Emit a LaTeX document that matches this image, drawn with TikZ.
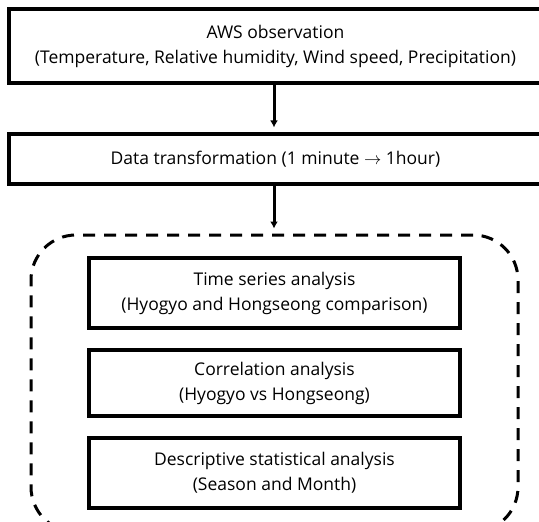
\documentclass[tikz,border=0pt]{standalone}
\usepackage{fontspec}
\setmainfont{Open Sans}
\usetikzlibrary{arrows.meta}

\begin{document}
\begin{tikzpicture}[x=1pt,y=1pt,
  stepbox/.style={draw=black,line width=3.2pt,align=center,inner sep=0pt,font=\fontsize{17.5}{25}\selectfont},
  flow/.style={line width=3pt,-{Latex[length=7pt,width=8pt]},shorten >=5pt},
  groupbox/.style={draw=black,line width=3pt,dash pattern=on 12pt off 9pt,rounded corners=45pt}]
\useasboundingbox (0,0) rectangle (539,-522);
\clip (0,0) rectangle (539,-522);
\node [stepbox,minimum width=533,minimum height=74] (aws) at (275.5,-46)
  {AWS observation\\(Temperature, Relative humidity, Wind speed, Precipitation)};
\node [stepbox,minimum width=533,minimum height=50] (trans) at (275.5,-159)
  {Data transformation (1 minute $\rightarrow$ 1hour)};
\node [groupbox,minimum width=487,minimum height=297] (group) at (274.5,-383.5) {};
\node [stepbox,minimum width=371,minimum height=70] (timeser) at (274.5,-293)
  {Time series analysis\\(Hyogyo and Hongseong comparison)};
\node [stepbox,minimum width=371,minimum height=66] (corr) at (274.5,-383)
  {Correlation analysis\\(Hyogyo vs Hongseong)};
\node [stepbox,minimum width=371,minimum height=70] (desc) at (274.5,-473)
  {Descriptive statistical analysis\\(Season and Month)};
\draw [flow] (aws.south -| 274,0) -- (trans.north -| 274,0);
\draw [flow] (trans.south -| 274,0) -- (group.north -| 274,0);
\end{tikzpicture}
\end{document}
